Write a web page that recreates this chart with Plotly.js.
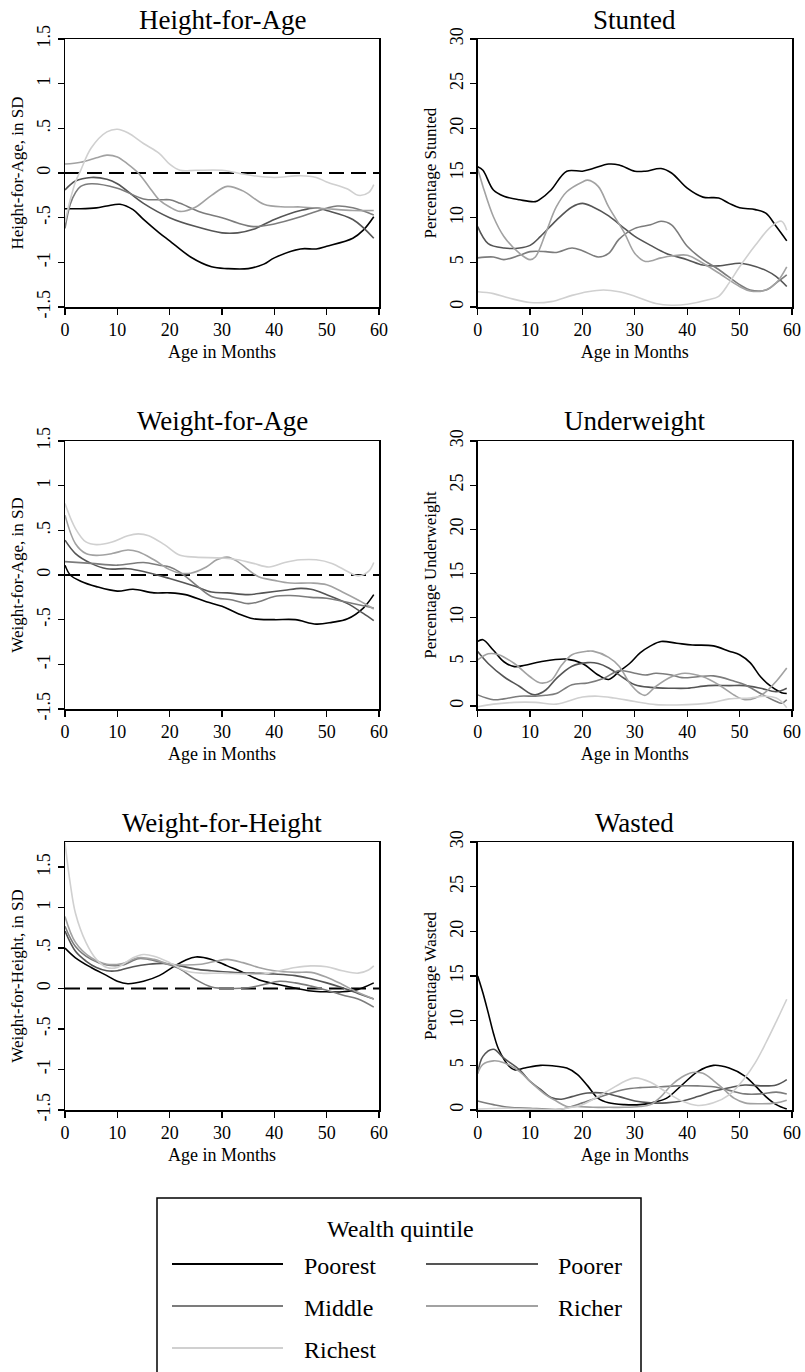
<!DOCTYPE html>
<html><head><meta charset="utf-8">
<script src="https://cdn.plot.ly/plotly-3.0.1.min.js"></script>
<style>html,body{margin:0;padding:0;background:#fff}#chart{width:805px;height:1372px}</style>
</head><body><div id="chart"></div>
<script>
// ---------- labels ----------
const quintiles = ['Poorest','Poorer','Middle','Richer','Richest'];
const xTickVals = [0,10,20,30,40,50,60];
const zTickVals = [-1.5,-1,-0.5,0,0.5,1,1.5];
const zTickText = ['-1.5','-1','-.5','0','.5','1','1.5'];
const pTickVals = [0,5,10,15,20,25,30];
const pTickText = ['0','5','10','15','20','25','30'];
const zeroX = [0,60];
const zeroY = [0,0];

// ---------- Height-for-Age ----------
const hfaPoorestX = [0,3,6,8,10.5,13,15,18,20,24,28,31,35,38,40,45,48,50,55,57,59];
const hfaPoorestY = [-0.4,-0.4,-0.39,-0.37,-0.35,-0.41,-0.52,-0.67,-0.76,-0.94,-1.05,-1.07,-1.07,-1.02,-0.95,-0.85,-0.85,-0.82,-0.73,-0.64,-0.49];
const hfaPoorerX = [0,2,5,8,10,15,20,25,30,33,36,40,45,48,50,55,59];
const hfaPoorerY = [-0.19,-0.09,-0.05,-0.07,-0.12,-0.34,-0.5,-0.6,-0.67,-0.67,-0.63,-0.52,-0.42,-0.39,-0.42,-0.52,-0.73];
const hfaMiddleX = [0,1,2,3,5,10,15,18,20,22,26,30,33,36,40,45,47,52,55,59];
const hfaMiddleY = [-0.62,-0.35,-0.22,-0.15,-0.12,-0.17,-0.29,-0.3,-0.3,-0.34,-0.44,-0.5,-0.56,-0.6,-0.57,-0.49,-0.45,-0.37,-0.39,-0.47];
const hfaRicherX = [0,3,6,8,10,12,14,16,18,20,22,25,28,31,34,38,42,45,50,55,59];
const hfaRicherY = [0.1,0.12,0.17,0.2,0.18,0.1,0.0,-0.15,-0.3,-0.38,-0.43,-0.38,-0.25,-0.15,-0.2,-0.35,-0.38,-0.38,-0.4,-0.42,-0.42];
const hfaRichestX = [0,1,2,3,5,8,10,12,15,18,20,22,25,30,33,36,40,45,48,50,54,56,58,59];
const hfaRichestY = [-0.55,-0.3,-0.1,0.03,0.28,0.46,0.49,0.45,0.33,0.22,0.1,0.03,0.03,0.03,0.0,-0.03,-0.05,-0.03,-0.05,-0.1,-0.18,-0.25,-0.22,-0.13];

// ---------- Stunted ----------
const stuPoorestX = [0,1,3,5,8,11,12,14,17,20,22,25,27,30,32,35,37,40,43,46,48,50,53,55,57,59];
const stuPoorestY = [15.7,15.3,13.1,12.4,12.0,11.8,12.1,13.1,15.2,15.2,15.5,16.0,15.9,15.2,15.2,15.5,15.0,13.3,12.3,12.2,11.6,11.1,10.9,10.5,9.0,7.4];
const stuPoorerX = [0,2,5,8,10,12,15,18,20,22,25,28,30,33,36,40,43,46,50,52,55,57,59];
const stuPoorerY = [9.0,7.1,6.6,6.6,6.9,7.9,9.7,11.2,11.6,11.2,10.2,8.8,7.9,6.9,6.0,5.3,4.7,4.6,4.9,4.7,4.1,3.4,2.3];
const stuMiddleX = [0,3,5,8,10,13,15,18,20,23,25,27,30,33,35,37,40,43,46,50,52,55,57,59];
const stuMiddleY = [5.5,5.6,5.3,5.8,6.2,6.2,6.1,6.6,6.3,5.6,6.0,7.6,8.8,9.2,9.6,9.2,6.8,5.3,4.2,2.5,1.9,1.9,2.7,3.6];
const stuRicherX = [0,1,3,5,8,10,11,13,15,17,20,21,23,25,28,30,32,35,37,40,43,46,50,52,55,57,59];
const stuRicherY = [15.5,13.5,10.1,7.9,6.0,5.3,5.6,8.3,11.2,12.9,14.0,14.2,13.5,11.2,8.3,6.0,5.1,5.5,5.7,5.8,4.9,3.8,2.3,1.8,1.9,2.7,4.5];
const stuRichestX = [0,3,6,10,14,18,21,24,27,30,34,37,40,44,46,48,50,53,56,58,59];
const stuRichestY = [1.7,1.5,1.0,0.5,0.6,1.3,1.7,1.9,1.7,1.2,0.4,0.2,0.3,0.8,1.2,2.7,4.5,6.9,9.0,9.6,8.6];

// ---------- Weight-for-Age ----------
const wfaPoorestX = [0,1,3,6,10,13,17,20,23,27,30,33,36,40,44,48,51,54,57,59];
const wfaPoorestY = [0.11,0.0,-0.07,-0.13,-0.18,-0.16,-0.2,-0.2,-0.22,-0.3,-0.35,-0.43,-0.49,-0.5,-0.5,-0.55,-0.53,-0.49,-0.37,-0.22];
const wfaPoorerX = [0,2,5,8,12,15,20,25,28,31,35,38,42,45,47,50,54,57,59];
const wfaPoorerY = [0.39,0.24,0.13,0.07,0.07,0.04,-0.04,-0.13,-0.19,-0.2,-0.22,-0.2,-0.17,-0.15,-0.16,-0.22,-0.32,-0.43,-0.51];
const wfaMiddleX = [0,5,10,15,18,20,22,25,28,32,35,37,40,43,47,50,55,59];
const wfaMiddleY = [0.15,0.13,0.11,0.14,0.11,0.09,0.03,-0.11,-0.24,-0.28,-0.32,-0.3,-0.24,-0.23,-0.25,-0.26,-0.32,-0.37];
const wfaRicherX = [0,2,4,6,9,12,14,17,20,22,24,27,29,31,33,35,37,40,43,47,50,53,56,59];
const wfaRicherY = [0.67,0.35,0.24,0.22,0.24,0.28,0.26,0.17,0.06,0.02,0.02,0.09,0.17,0.2,0.15,0.06,-0.02,-0.06,-0.09,-0.09,-0.11,-0.19,-0.28,-0.38];
const wfaRichestX = [0,2,4,6,9,12,14,16,19,22,25,30,33,36,39,42,45,48,51,54,56,58,59];
const wfaRichestY = [0.8,0.52,0.37,0.34,0.37,0.44,0.46,0.44,0.34,0.22,0.2,0.19,0.17,0.13,0.09,0.14,0.17,0.17,0.13,0.04,-0.01,0.04,0.14];

// ---------- Underweight ----------
const undPoorestX = [0,1,3,5,7,9,12,17,20,23,25,27,29,31,33,35,38,41,45,48,50,52,54,56,58,59];
const undPoorestY = [7.3,7.5,6.3,5.0,4.45,4.6,5.0,5.3,4.8,3.5,3.0,3.9,4.8,6.0,6.8,7.3,7.1,6.9,6.8,6.2,5.8,4.9,3.3,2.2,1.5,1.4];
const undPoorerX = [0,2,5,8,10,11,13,15,18,21,23,25,28,30,33,37,40,44,48,51,54,57,59];
const undPoorerY = [6.15,4.8,3.3,2.2,1.4,1.25,1.8,3.1,4.5,4.9,4.8,4.3,3.1,2.4,2.1,2.0,2.0,2.3,2.3,2.3,2.0,1.6,2.0];
const undMiddleX = [0,3,5,8,11,13,15,18,21,24,27,30,32,34,37,39,42,45,49,51,54,57,58,59];
const undMiddleY = [1.25,0.7,0.8,1.1,1.1,1.2,1.4,2.4,2.6,3.1,4.0,3.7,3.5,3.7,3.5,3.2,3.3,3.4,2.8,2.4,1.4,0.5,0.3,0.7];
const undRicherX = [0,2,4,7,10,12,14,16,18,21,22,25,27,29,31,32,34,37,39.5,43,46,49,51,53,55,57,59];
const undRicherY = [5.2,5.9,5.8,4.8,3.3,2.6,2.9,4.6,5.8,6.2,6.2,5.5,4.5,2.6,1.4,1.2,2.2,3.3,3.7,3.3,2.4,1.2,0.7,0.9,1.6,2.8,4.3];
const undRichestX = [0,3,7,11,15,20,23,26,30,34,38,42,45,48,52,55,57,58,59];
const undRichestY = [-0.1,0.2,0.4,0.4,0.2,1.0,1.1,0.9,0.5,0.15,0.1,0.2,0.4,0.8,0.9,1.1,0.9,0.5,-0.2];

// ---------- Weight-for-Height ----------
const wfhPoorestX = [0,2,5,8,10,12,15,18,21,23,25,28,31,34,37,40,43,47,50,53,56,59];
const wfhPoorestY = [0.5,0.38,0.26,0.16,0.09,0.06,0.09,0.16,0.28,0.35,0.39,0.36,0.28,0.2,0.11,0.06,0.02,-0.03,-0.04,-0.04,-0.01,0.07];
const wfhPoorerX = [0,2,4,6,8,10,13,16,19,22,25,28,32,36,40,44,47,50,53,56,59];
const wfhPoorerY = [0.71,0.46,0.34,0.26,0.22,0.22,0.27,0.3,0.31,0.28,0.24,0.22,0.2,0.19,0.18,0.16,0.12,0.07,0.01,-0.06,-0.13];
const wfhMiddleX = [0,2,5,8,11,14,16,19,22,25,28,32,35,38,41,44,47,50,53,56,59];
const wfhMiddleY = [0.77,0.52,0.36,0.29,0.29,0.37,0.36,0.31,0.24,0.11,0.02,0,0.01,0.05,0.09,0.07,0.03,-0.02,-0.08,-0.13,-0.23];
const wfhRicherX = [0,2,5,8,11,14,17,20,23,26,29,31,34,37,40,44,47,50,53,56,59];
const wfhRicherY = [0.89,0.57,0.38,0.3,0.31,0.38,0.36,0.3,0.29,0.3,0.34,0.36,0.32,0.26,0.22,0.2,0.2,0.14,0.05,-0.05,-0.13];
const wfhRichestX = [0,1,2,4,6,8,10,13,15,17,20,23,26,30,34,38,41,44,47,50,53,56,58,59];
const wfhRichestY = [1.8,1.3,0.93,0.57,0.36,0.26,0.26,0.38,0.42,0.4,0.32,0.22,0.19,0.19,0.18,0.18,0.22,0.26,0.28,0.27,0.22,0.19,0.23,0.28];

// ---------- Wasted ----------
const wasPoorestX = [0,1,2,3,4,6,7,9,12,15,17,19,21,23,25,28,31,33,36,39,42,45,48,51,53,55,57,59];
const wasPoorestY = [15.0,13.1,10.9,8.6,6.8,4.9,4.5,4.7,5.0,4.9,4.7,4.0,2.7,1.3,0.8,0.6,0.6,0.8,1.3,2.8,4.3,5.0,4.7,3.8,2.7,1.5,0.6,0.1];
const wasPoorerX = [0,1,3,5,8,10,12,14,16,18,21,24,27,30,33,36,39,42,45,48,51,54,57,59];
const wasPoorerY = [4.1,6.0,6.8,5.8,4.5,3.2,2.3,1.4,1.2,1.5,1.9,1.9,1.5,1.0,0.8,0.8,1.0,1.5,2.1,2.5,2.8,2.7,2.8,3.4];
const wasMiddleX = [0,3,6,10,13,16,19,22,25,28,31,35,38,42,45,48,51,54,57,59];
const wasMiddleY = [1.0,0.6,0.3,0.2,0.1,0.1,0.6,1.2,1.8,2.3,2.5,2.6,2.7,2.7,2.6,2.2,1.8,1.8,2.0,1.8];
const wasRicherX = [0,1,3,5,8,10,13,15,17,19,22,25,28,31,33,35,37,39,41,43,45,47,49,51,54,57,59];
const wasRicherY = [4.1,5.1,5.5,5.3,4.3,3.2,1.7,1.0,0.4,0.4,0.3,0.3,0.3,0.4,0.6,1.5,2.8,3.7,4.2,4.1,3.3,2.3,1.3,0.8,0.7,0.8,1.1];
const wasRichestX = [0,5,10,15,18,20,25,28,30,33,36,39,42,45,48,51,53,55,57,59];
const wasRichestY = [0.1,0.2,0.1,0.05,0.3,0.6,2.2,3.2,3.6,3.1,2.0,1.0,0.5,0.8,1.7,3.6,5.3,7.5,9.9,12.4];

// ---------- figure construction ----------
const W = 805, H = 1372;
const FONT = '"Liberation Serif", "Times New Roman", serif';
const lineColors = ['#000000','#555555','#7c7c7c','#a2a2a2','#d0d0d0'];
const colPx = [[65,379],[477.7,792]];
const rowPx = [[39,307],[441,709],[842,1110]];
const titleYPx = [20,421,823];

const panels = [
  {title:'Height-for-Age', ytitle:'Height-for-Age, in SD', z:true, range:[-1.5,1.5], row:0, col:0,
   xs:[hfaPoorestX,hfaPoorerX,hfaMiddleX,hfaRicherX,hfaRichestX], ys:[hfaPoorestY,hfaPoorerY,hfaMiddleY,hfaRicherY,hfaRichestY]},
  {title:'Stunted', ytitle:'Percentage Stunted', z:false, range:[0,30], row:0, col:1,
   xs:[stuPoorestX,stuPoorerX,stuMiddleX,stuRicherX,stuRichestX], ys:[stuPoorestY,stuPoorerY,stuMiddleY,stuRicherY,stuRichestY]},
  {title:'Weight-for-Age', ytitle:'Weight-for-Age, in SD', z:true, range:[-1.5,1.5], row:1, col:0,
   xs:[wfaPoorestX,wfaPoorerX,wfaMiddleX,wfaRicherX,wfaRichestX], ys:[wfaPoorestY,wfaPoorerY,wfaMiddleY,wfaRicherY,wfaRichestY]},
  {title:'Underweight', ytitle:'Percentage Underweight', z:false, range:[-0.35,30], row:1, col:1,
   xs:[undPoorestX,undPoorerX,undMiddleX,undRicherX,undRichestX], ys:[undPoorestY,undPoorerY,undMiddleY,undRicherY,undRichestY]},
  {title:'Weight-for-Height', ytitle:'Weight-for-Height, in SD', z:true, range:[-1.5,1.81], row:2, col:0,
   xs:[wfhPoorestX,wfhPoorerX,wfhMiddleX,wfhRicherX,wfhRichestX], ys:[wfhPoorestY,wfhPoorerY,wfhMiddleY,wfhRicherY,wfhRichestY]},
  {title:'Wasted', ytitle:'Percentage Wasted', z:false, range:[0,30], row:2, col:1,
   xs:[wasPoorestX,wasPoorerX,wasMiddleX,wasRicherX,wasRichestX], ys:[wasPoorestY,wasPoorerY,wasMiddleY,wasRicherY,wasRichestY]}
];

const traces = [];
const layout = {
  width: W, height: H,
  margin: {l:0, r:0, t:0, b:0},
  paper_bgcolor: '#ffffff', plot_bgcolor: '#ffffff',
  showlegend: false,
  font: {family: FONT, color: '#000'},
  annotations: [], shapes: []
};

panels.forEach((p, i) => {
  const n = i + 1;
  const xa = n === 1 ? 'x' : 'x' + n;
  const ya = n === 1 ? 'y' : 'y' + n;
  const xKey = n === 1 ? 'xaxis' : 'xaxis' + n;
  const yKey = n === 1 ? 'yaxis' : 'yaxis' + n;
  const c = colPx[p.col], r = rowPx[p.row];
  const common = {
    showgrid: false, zeroline: false, showline: true, linecolor: '#000', linewidth: 1.5,
    mirror: true, ticks: 'outside', ticklen: 6, tickwidth: 1.3, tickcolor: '#000',
    tickfont: {family: FONT, size: 18, color: '#000'}, fixedrange: true
  };
  layout[xKey] = Object.assign({}, common, {
    domain: [c[0]/W, c[1]/W], anchor: ya, range: [0,60],
    tickmode: 'array', tickvals: xTickVals,
    title: {text: 'Age in Months', font: {family: FONT, size: 18, color: '#000'}, standoff: 6}
  });
  layout[yKey] = Object.assign({}, common, {
    domain: [1 - r[1]/H, 1 - r[0]/H], anchor: xa, range: p.range,
    tickmode: 'array', tickvals: p.z ? zTickVals : pTickVals, ticktext: p.z ? zTickText : pTickText,
    tickangle: -90,
    title: {text: p.ytitle, font: {family: FONT, size: 17, color: '#000'}, standoff: 6}
  });
  if (p.z) {
    traces.push({x: zeroX, y: zeroY, xaxis: xa, yaxis: ya, mode: 'lines', hoverinfo: 'skip',
      line: {color: '#000', width: 2, dash: '15px,7px'}, showlegend: false});
  }
  for (let k = 0; k < 5; k++) {
    traces.push({x: p.xs[k], y: p.ys[k], xaxis: xa, yaxis: ya, name: quintiles[k], mode: 'lines',
      line: {color: lineColors[k], width: 1.6, shape: 'spline', smoothing: 1}, showlegend: false});
  }
  layout.annotations.push({text: p.title, xref: 'paper', yref: 'paper',
    x: (c[0] + c[1]) / 2 / W, y: 1 - titleYPx[p.row] / H, xanchor: 'center', yanchor: 'middle',
    showarrow: false, font: {family: FONT, size: 27, color: '#000'}});
});

// ---------- legend box ----------
const legBox = {x0: 157, x1: 641, y0: 1198, y1: 1390};
layout.shapes.push({type: 'rect', xref: 'paper', yref: 'paper',
  x0: legBox.x0/W, x1: legBox.x1/W, y0: 1 - legBox.y1/H, y1: 1 - legBox.y0/H,
  line: {color: '#000', width: 1.5}, fillcolor: 'rgba(0,0,0,0)'});
layout.annotations.push({text: 'Wealth quintile', xref: 'paper', yref: 'paper', x: 400/W, y: 1 - 1229/H,
  xanchor: 'center', yanchor: 'middle', showarrow: false, font: {family: FONT, size: 24, color: '#000'}});
const legSlots = [
  {lx0: 172, lx1: 283, tx: 302, ly: 1264, ty: 1266},
  {lx0: 426, lx1: 538, tx: 556, ly: 1264, ty: 1266},
  {lx0: 172, lx1: 283, tx: 302, ly: 1306, ty: 1308},
  {lx0: 426, lx1: 538, tx: 556, ly: 1306, ty: 1308},
  {lx0: 172, lx1: 283, tx: 302, ly: 1348, ty: 1350}
];
quintiles.forEach((q, k) => {
  const s = legSlots[k];
  layout.shapes.push({type: 'line', xref: 'paper', yref: 'paper',
    x0: s.lx0/W, x1: s.lx1/W, y0: 1 - s.ly/H, y1: 1 - s.ly/H,
    line: {color: lineColors[k], width: 2.2}});
  layout.annotations.push({text: q, xref: 'paper', yref: 'paper', x: s.tx/W, y: 1 - s.ty/H,
    xanchor: 'left', yanchor: 'middle', showarrow: false, font: {family: FONT, size: 24, color: '#000'}});
});

Plotly.newPlot('chart', traces, layout, {staticPlot: true, displayModeBar: false});
</script></body></html>
